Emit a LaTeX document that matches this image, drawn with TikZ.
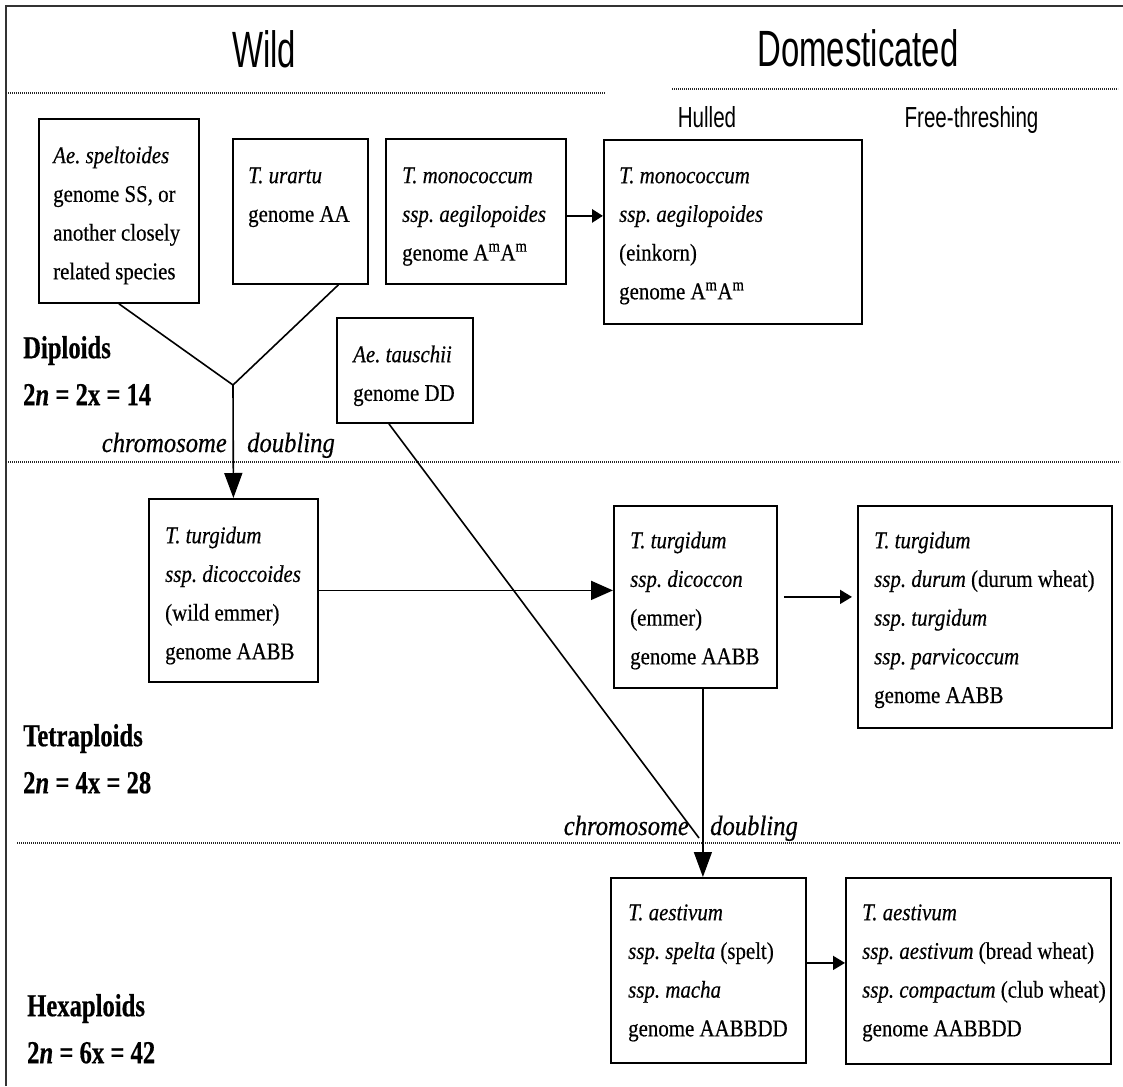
\documentclass[tikz,border=0pt]{standalone}
\usepackage{fontspec}
\setmainfont{Liberation Serif}
\newfontfamily\bodyfont[FakeStretch=0.87,FakeBold=0.4]{Liberation Serif}
\newfontfamily\labfont[FakeStretch=0.77,FakeBold=0.5]{Liberation Serif}
\newfontfamily\chromfont[FakeStretch=0.88,FakeBold=0.4]{Liberation Serif}
\newfontfamily\headfont[FakeStretch=0.645]{Liberation Sans}
\newfontfamily\subfont[FakeStretch=0.71]{Liberation Sans}
\usetikzlibrary{arrows.meta,calc}
\newcommand{\Amm}{A\textsuperscript{m}A\textsuperscript{m}}
\frenchspacing
\begin{document}
\begin{tikzpicture}[x=1pt,y=-1pt,
  box/.style={draw, line width=1.8pt, inner sep=0pt, anchor=north west},
  boxtext/.style={anchor=north west, inner sep=0pt, align=left,
    font=\frenchspacing\bodyfont\fontsize{24pt}{38.7pt}\selectfont},
  lab/.style={anchor=north west, inner sep=0pt, align=left,
    font=\labfont\bfseries\fontsize{32pt}{47pt}\selectfont},
  chrom/.style={inner sep=0pt, font=\chromfont\itshape\fontsize{28pt}{34pt}\selectfont},
  head/.style={anchor=base, inner sep=0pt, font=\headfont\fontsize{51pt}{60pt}\selectfont},
  subhead/.style={anchor=base, inner sep=0pt, font=\subfont\fontsize{29pt}{34pt}\selectfont},
  frame/.style={draw=black!80, line width=1.2pt},
  dotline/.style={draw=black!85, line width=1.5pt, dash pattern=on 1.2pt off 0.8pt},
  link/.style={draw, line width=1.6pt},
  bigarrow/.style={draw, line width=1.6pt, -{Triangle[length=25pt,width=18pt]}},
  smallarrow/.style={draw, line width=1.6pt, -{Triangle[length=12pt,width=14pt]}},
  thickarrow/.style={draw, line width=2.8pt, -{Triangle[length=11pt,width=13pt]}}
]
\useasboundingbox (0,0) rectangle (1123,1086);

% frame and separators
\draw[frame] (6,1086) -- (6,6) -- (1123,6);
\draw[dotline] (6,93) -- (605,93);
\draw[dotline] (672,89) -- (1118,89);
\draw[dotline] (6,462) -- (1120,462);
\draw[dotline] (17,843) -- (1120,843);

% headings
\node[head] (wild) at (264,68) {Wild};
\node[head] (dom) at (858,67) {Domesticated};
\node[subhead] (hulled) at (707,128) {Hulled};
\node[subhead] (free) at (971.5,128) {Free-threshing};

% ploidy labels
\node[lab] (dip) at (23,332) {\rule{0pt}{26pt}Diploids\\2\textit{n} = 2x = 14};
\node[lab] (tet) at (23,720) {\rule{0pt}{26pt}Tetraploids\\2\textit{n} = 4x = 28};
\node[lab] (hex) at (27,990) {\rule{0pt}{26pt}Hexaploids\\2\textit{n} = 6x = 42};

% boxes
\node[box, minimum width=160pt, minimum height=184pt] (sp) at (38,118) {};
\node[boxtext] (spt) at (53,143) {\rule{0pt}{20pt}\textit{Ae. speltoides}\\genome SS, or\\another closely\\related species};

\node[box, minimum width=135pt, minimum height=145pt] (ur) at (232,138) {};
\node[boxtext] (urt) at (248,163) {\rule{0pt}{20pt}\textit{T. urartu}\\genome AA};

\node[box, minimum width=180pt, minimum height=145pt] (mw) at (385,138) {};
\node[boxtext] (mwt) at (402,163) {\rule{0pt}{20pt}\textit{T. monococcum}\\\textit{ssp. aegilopoides}\\genome \Amm};

\node[box, minimum width=258pt, minimum height=184pt] (md) at (603,139) {};
\node[boxtext] (mdt) at (619,163) {\rule{0pt}{20pt}\textit{T. monococcum}\\\textit{ssp. aegilopoides}\\(einkorn)\\genome \Amm};

\node[box, minimum width=136pt, minimum height=105pt] (ta) at (336,317) {};
\node[boxtext] (tat) at (353,342) {\rule{0pt}{20pt}\textit{Ae. tauschii}\\genome DD};

\node[box, minimum width=169pt, minimum height=183pt] (dd) at (148,498) {};
\node[boxtext] (ddt) at (165,523) {\rule{0pt}{20pt}\textit{T. turgidum}\\\textit{ssp. dicoccoides}\\(wild emmer)\\genome AABB};

\node[box, minimum width=163pt, minimum height=182pt] (dc) at (613,505) {};
\node[boxtext] (dct) at (630,528) {\rule{0pt}{20pt}\textit{T. turgidum}\\\textit{ssp. dicoccon}\\(emmer)\\genome AABB};

\node[box, minimum width=254pt, minimum height=222pt] (du) at (857,505) {};
\node[boxtext] (dut) at (874,528) {\rule{0pt}{20pt}\textit{T. turgidum}\\\textit{ssp. durum} (durum wheat)\\\textit{ssp. turgidum}\\\textit{ssp. parvicoccum}\\genome AABB};

\node[box, minimum width=195pt, minimum height=185pt] (sl) at (610,877) {};
\node[boxtext] (slt) at (628,900) {\rule{0pt}{20pt}\textit{T. aestivum}\\\textit{ssp. spelta} (spelt)\\\textit{ssp. macha}\\genome AABBDD};

\node[box, minimum width=265pt, minimum height=186pt] (ae) at (845,877) {};
\node[boxtext] (aet) at (862,900) {\rule{0pt}{20pt}\textit{T. aestivum}\\\textit{ssp. aestivum} (bread wheat)\\\textit{ssp. compactum} (club wheat)\\genome AABBDD};

% chromosome doubling labels
\node[chrom, anchor=base east] (c1a) at (227,452) {chromosome};
\node[chrom, anchor=base west] (c1b) at (247,452) {doubling};
\node[chrom, anchor=base east] (c2a) at (689,835) {chromosome};
\node[chrom, anchor=base west] (c2b) at (710,835) {doubling};

% connectors
\coordinate (J) at (233,385);
\coordinate (urb) at ($(ur.south west)!0.778!(ur.south east)$);
\draw[link] (sp.south) -- (J);
\draw[link] (urb) -- (J);
\draw[bigarrow] (J) -- (dd.north);

\coordinate (m1) at ([yshift=-4.5pt]mw.east);
\draw[thickarrow] (m1) -- (m1 -| md.west);

\draw[bigarrow, line width=1.8pt, -{Triangle[length=22pt,width=19pt]}] (dd.east) -- (dd.east -| dc.west);

\draw[smallarrow, shorten <=6pt, shorten >=5pt] (dc.east) -- (dc.east -| du.west);

\coordinate (dcb) at ([xshift=7.5pt]dc.south);
\draw[bigarrow, line width=1.3pt] (dcb) -- (dcb |- sl.north);

\coordinate (tas) at ([xshift=-16pt]ta.south);
\coordinate (tend) at (699,838);
\draw[link] (tas) -- (tend);

\coordinate (s1) at ([yshift=7.5pt]sl.east);
\draw[smallarrow] (s1) -- (s1 -| ae.west);
\end{tikzpicture}
\end{document}
